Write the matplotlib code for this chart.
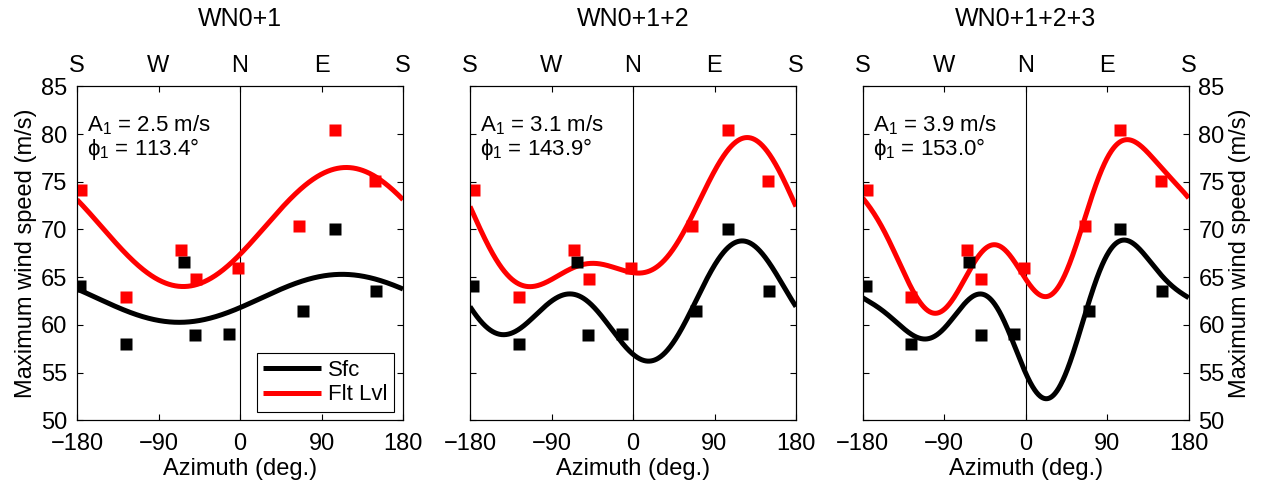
import numpy as np
import matplotlib
matplotlib.use("Agg")
import matplotlib.pyplot as plt

plt.rcParams['font.family'] = ['Liberation Sans', 'DejaVu Sans']
plt.rcParams['mathtext.fontset'] = 'custom'
plt.rcParams['mathtext.rm'] = 'Liberation Sans'
plt.rcParams['mathtext.it'] = 'Liberation Sans'
plt.rcParams['mathtext.fallback'] = 'stixsans'

# ---- data ----
az_sfc = [-176.3, -126.2, -62.2, -49.3, -12.5, 69.6, 104.5, 150.2]
ws_sfc = [64.1, 58.0, 66.6, 58.9, 59.0, 61.5, 70.1, 63.6]
az_flt = [-175.6, -126.2, -64.8, -49.0, -2.2, 65.5, 104.5, 149.1]
ws_flt = [74.1, 62.9, 67.9, 64.8, 66.0, 70.4, 80.4, 75.1]

titles = ["WN0+1", "WN0+1+2", "WN0+1+2+3"]
max_wavenumber = [1, 2, 3]
amp_labels = ["2.5", "3.1", "3.9"]
phase_labels = ["113.4", "143.9", "153.0"]
xticks = [-180, -90, 0, 90, 180]
top_labels = ["S", "W", "N", "E", "S"]
yticks = [50, 55, 60, 65, 70, 75, 80, 85]
series_names = ["Sfc", "Flt Lvl"]


def design(theta_deg, nmax):
    t = np.deg2rad(np.asarray(theta_deg))
    cols = [np.ones_like(t)]
    for k in range(1, nmax + 1):
        cols += [np.cos(k * t), np.sin(k * t)]
    return np.column_stack(cols)


def fourier_fit(az, ws, nmax, grid):
    coef, *_ = np.linalg.lstsq(design(az, nmax), np.asarray(ws), rcond=None)
    return design(grid, nmax) @ coef


fig = plt.figure(figsize=(12.63, 4.86), dpi=100)
W, H = 1263, 486
lefts = [77, 470, 862.7]
width = 326
bottom_px, top_px = 420.4, 86.3
grid = np.linspace(-180, 180, 721)
FS = 17

for i in range(3):
    ax = fig.add_axes([lefts[i] / W, 1 - bottom_px / H, width / W, (bottom_px - top_px) / H])
    ax.set_xlim(-180, 180)
    ax.set_ylim(50, 85)
    ax.axvline(0, color='black', lw=0.8, zorder=1)

    for az, ws, col, name in [(az_sfc, ws_sfc, 'black', series_names[0]),
                              (az_flt, ws_flt, 'red', series_names[1])]:
        ax.plot(grid, fourier_fit(az, ws, max_wavenumber[i], grid), color=col,
                lw=3.6, label=name, zorder=3, solid_capstyle='butt')
        ax.plot(az, ws, 's', color=col, ms=8, mec='none', zorder=4)

    ax.set_xticks(xticks)
    ax.set_xticklabels([str(v).replace('-', '\u2212') for v in xticks])
    ax.set_yticks(yticks)
    ax.tick_params(direction='in', length=4, width=0.8, labelsize=FS, pad=7,
                   top=True, right=True)
    ax.tick_params(axis='x', pad=9)
    for s in ax.spines.values():
        s.set_linewidth(0.8)
    ax.set_xlabel("Azimuth (deg.)", fontsize=FS, labelpad=2)

    if i == 0:
        ax.set_ylabel("Maximum wind speed (m/s)", fontsize=FS, labelpad=3)
    elif i == 1:
        ax.set_yticklabels([])
    else:
        ax.yaxis.tick_right()
        ax.yaxis.set_label_position('right')
        ax.tick_params(axis='y', left=True, right=True)
        ax.set_ylabel("Maximum wind speed (m/s)", fontsize=FS, labelpad=3)

    top = ax.twiny()
    top.set_xlim(-180, 180)
    top.set_xticks(xticks)
    top.set_xticklabels(top_labels)
    top.tick_params(direction='in', length=4, width=0.8, labelsize=FS, pad=7)

    ax.text(0.5, 1.202, titles[i], transform=ax.transAxes, ha='center',
            va='center', fontsize=18)
    ax.text(0.031, 0.884, r"A$_1$ = " + amp_labels[i] + " m/s", transform=ax.transAxes,
            ha='left', va='center', fontsize=16)
    ax.text(0.031, 0.812, r"$\phi_1$ = " + phase_labels[i] + "\u00b0", transform=ax.transAxes,
            ha='left', va='center', fontsize=16)

    if i == 0:
        leg = ax.legend(loc='lower right', bbox_to_anchor=(0.972, 0.025),
                        borderaxespad=0, fontsize=16, fancybox=False,
                        edgecolor='black', framealpha=1, handlelength=2.6,
                        handletextpad=0.3, labelspacing=0.15, borderpad=0.3)
        leg.get_frame().set_linewidth(0.8)

fig.savefig("out.png", dpi=100)
